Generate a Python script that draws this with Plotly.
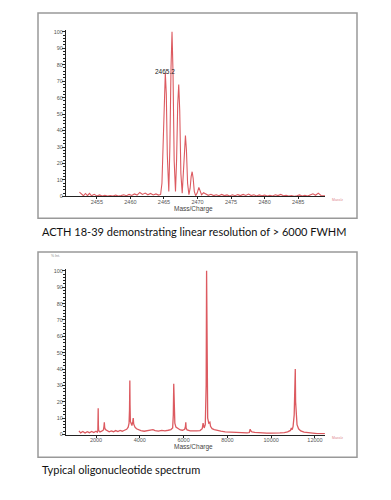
import plotly.graph_objects as go

# ---------------- data ----------------
# ACTH 18-39 isotope cluster (top panel)
top_mz = [2452.4, 2452.7, 2453.0, 2453.3, 2453.6, 2453.9, 2454.2, 2454.6, 2455.0, 2455.4,
          2455.8, 2456.2, 2456.6, 2457.0, 2457.4, 2457.8, 2458.2, 2458.6, 2459.0, 2459.4,
          2459.8, 2460.2, 2460.6, 2461.0, 2461.4, 2461.8, 2462.2, 2462.6, 2463.0, 2463.4,
          2463.8, 2464.2, 2464.5,
          2464.7, 2464.9, 2465.05, 2465.2, 2465.35, 2465.5, 2465.72,
          2465.88, 2466.05, 2466.2, 2466.35, 2466.52, 2466.72,
          2466.88, 2467.05, 2467.2, 2467.35, 2467.52, 2467.72,
          2467.88, 2468.05, 2468.2, 2468.35, 2468.52, 2468.72,
          2468.9, 2469.05, 2469.2, 2469.35, 2469.52, 2469.72,
          2469.95, 2470.2, 2470.4, 2470.6,
          2470.9, 2471.2, 2471.6, 2472.0, 2472.4, 2472.8, 2473.2, 2473.6, 2474.0, 2474.4,
          2474.8, 2475.2, 2475.6, 2476.0, 2476.4, 2476.8, 2477.2, 2477.6, 2478.0, 2478.4,
          2478.8, 2479.2, 2479.6, 2480.0, 2480.4, 2480.8, 2481.2, 2481.6, 2482.0, 2482.4,
          2482.8, 2483.2, 2483.6, 2484.0, 2484.4, 2484.8, 2485.2, 2485.6, 2486.0, 2486.4,
          2486.8, 2487.2, 2487.6, 2488.0, 2488.4, 2488.8, 2489.0]
top_int = [2.6, 1.2, 0.4, 1.8, 0.5, 1.9, 0.4, 1.3, 0.3, 0.9,
           0.2, 0.6, 0.3, 0.5, 0.2, 0.8, 0.3, 0.5, 1.0, 0.4,
           1.2, 0.6, 1.5, 0.8, 2.4, 1.2, 2.0, 1.0, 1.8, 0.9,
           1.5, 0.8, 1.2,
           8, 40, 66, 75, 62, 25, 3,
           30, 78, 100, 75, 22, 3,
           22, 56, 68, 52, 14, 2,
           13, 30, 37, 28, 8, 1.0,
           5, 12, 15, 11, 3, 0.5,
           2, 5.5, 2.5, 1.0,
           2.2, 1.5, 0.7, 1.3, 0.5, 1.0, 0.4, 1.2, 0.5, 0.9,
           0.3, 1.0, 0.4, 1.1, 0.5, 1.2, 0.6, 1.4, 0.5, 1.0,
           0.3, 0.9, 0.4, 0.8, 0.2, 0.6, 0.3, 1.0, 0.5, 1.2,
           0.4, 0.7, 0.2, 0.5, 0.1, 0.4, 0.9, 0.3, 0.6, 0.2,
           0.8, 1.6, 0.7, 2.0, 0.6, 0.5, 0.3]

# Oligonucleotide spectrum (bottom panel)
bot_mz = [1220, 1300, 1400, 1500, 1600, 1700, 1800, 1900, 2000, 2060,
          2085, 2095, 2100, 2108, 2120, 2180, 2260, 2340, 2365, 2380, 2395, 2430, 2500,
          2600, 2700, 2800, 2900, 3000, 3100, 3200, 3300, 3400, 3470,
          3510, 3530, 3545, 3555, 3570, 3600, 3640, 3680, 3700, 3720, 3780, 3850,
          3950, 4050, 4200, 4350, 4500, 4600, 4700, 4850, 5000, 5150, 5300, 5420, 5500,
          5530, 5550, 5565, 5600, 5650, 5750, 5850, 5950, 6050, 6085, 6100, 6115, 6160,
          6300, 6450, 6600, 6750, 6850, 6890, 6910, 6940, 6990, 7030, 7050, 7070,
          7100, 7150, 7200, 7230, 7300, 7400, 7550, 7700, 7900, 8100, 8300, 8500,
          8700, 8900, 9000, 9040, 9060, 9120, 9250, 9400, 9600, 9800, 10000, 10200,
          10400, 10600, 10750, 10880, 10920, 10960, 11000, 11050, 11080, 11100, 11115,
          11140, 11180, 11250, 11350, 11500, 11700, 11900, 12100, 12300, 12450]
bot_int = [2.2, 1.0, 1.8, 0.9, 1.7, 1.1, 1.9, 1.2, 2.0, 1.4,
           2.5, 9, 16, 6, 2.5, 1.6, 2.0, 2.8, 5, 7.5, 4.5, 3.0, 2.2,
           1.6, 2.2, 1.7, 2.4, 1.8, 2.5, 2.0, 2.6, 3.2, 4.5,
           7, 15, 33, 18, 8, 6.5, 5.5, 8, 10, 6.5, 4.5, 3.5,
           2.8, 2.4, 2.0, 2.3, 2.6, 3.0, 2.4, 2.1, 2.5, 2.2, 2.6, 3.0, 4.0,
           12, 31, 14, 7, 4.5, 3.4, 2.8, 2.6, 3.2, 5, 7.5, 4, 2.8,
           2.2, 2.0, 2.2, 2.4, 3.5, 7, 4.5, 4, 6, 30, 100, 25,
           10, 7, 7.5, 5, 3.6, 3.0, 2.4, 2.0, 1.6, 1.4, 1.3, 1.2,
           1.1, 1.0, 1.2, 3.2, 2.4, 1.6, 1.3, 1.1, 1.0, 0.9, 0.9, 0.8,
           1.0, 1.2, 1.6, 2.5, 4, 3, 5, 12, 25, 40, 20,
           11, 6, 3.5, 2.2, 1.4, 1.0, 0.8, 0.6, 0.5, 0.5]

top_ticks = [2455, 2460, 2465, 2470, 2475, 2480, 2485]
bot_ticks = [2000, 4000, 6000, 8000, 10000, 12000]
y_ticks = [0, 10, 20, 30, 40, 50, 60, 70, 80, 90, 100]

caption_top = "ACTH 18-39 demonstrating linear resolution of > 6000 FWHM"
caption_bot = "Typical oligonucleotide spectrum"
peak_label = "2465.2"

# ---------------- figure ----------------
W, H = 391, 500
line_col = "#dc5a60"


def px(p):
    return p / W


def py(p):
    return 1 - p / H


fig = go.Figure()
fig.add_trace(go.Scatter(x=top_mz, y=top_int, mode="lines",
                         line=dict(color=line_col, width=1.1), xaxis="x", yaxis="y",
                         hoverinfo="skip", showlegend=False))
fig.add_trace(go.Scatter(x=bot_mz, y=bot_int, mode="lines",
                         line=dict(color=line_col, width=1.3), xaxis="x2", yaxis="y2",
                         hoverinfo="skip", showlegend=False))

tick_font = dict(family="Liberation Sans, Arial, sans-serif", size=5.5, color="#555555")

xcommon = dict(showline=True, linecolor="#222222", linewidth=1, ticks="outside",
               ticklen=2, tickcolor="#222222", tickfont=tick_font, showgrid=False,
               zeroline=False, fixedrange=True, ticklabelstandoff=-2)
ycommon = dict(showline=True, linecolor="#222222", linewidth=1, ticks="outside",
               ticklen=3, tickcolor="#222222", tickfont=tick_font, showgrid=False,
               zeroline=False, tickvals=y_ticks, fixedrange=True, ticklabelstandoff=-2,
               minor=dict(dtick=2, ticklen=2, ticks="outside", tickcolor="#222222"))

fig.update_layout(
    width=W, height=H, margin=dict(l=0, r=0, t=0, b=0),
    paper_bgcolor="white", plot_bgcolor="white",
    xaxis=dict(domain=[px(66), px(325)], range=[2450.4, 2489.0], tickvals=top_ticks,
               anchor="y", **xcommon),
    yaxis=dict(domain=[py(197), py(29.3)], range=[0, 101], anchor="x", **ycommon),
    xaxis2=dict(domain=[px(66), px(325)], range=[630, 12457], tickvals=bot_ticks,
                ticktext=[str(t) for t in bot_ticks], anchor="y2", **xcommon),
    yaxis2=dict(domain=[py(437), py(270.4)], range=[0, 101], anchor="x2", **ycommon),
)

# grey frames around each spectrum
for top, bot in [(12, 219), (253, 460)]:
    fig.add_shape(type="rect", xref="paper", yref="paper",
                  x0=px(38), x1=px(357), y0=py(bot), y1=py(top),
                  line=dict(color="#999999", width=1.5), layer="above")

ann_font = dict(family="Liberation Sans, Arial, sans-serif", size=6.5, color="#444444")
cap_font = dict(family="Lato, Open Sans, sans-serif", size=11, color="#111111")


def note(x, y, text, font, xanchor="center", xref="paper", yref="paper"):
    fig.add_annotation(x=x, y=y, xref=xref, yref=yref, text=text, showarrow=False,
                       xanchor=xanchor, yanchor="middle", font=font,
                       borderpad=0, borderwidth=0)


note(px(193), py(210), "Mass/Charge", ann_font)
note(px(193), py(450), "Mass/Charge", ann_font)
note(2465.15, 76, peak_label,
     dict(family="Liberation Sans, Arial, sans-serif", size=6.5, color="#222222"),
     xref="x", yref="y")
note(px(42), py(232), caption_top, cap_font, xanchor="left")
note(px(42), py(472), caption_bot, cap_font, xanchor="left")
note(px(55), py(257), "% Int.", dict(family="Liberation Sans", size=3.5, color="#888888"))
for yy in (201, 441):
    note(px(337), py(yy), "Mass/z", dict(family="Liberation Sans", size=3.5, color="#e08a90"))

fig.write_html("out.html",
               config={"displayModeBar": False, "staticPlot": True},
               post_script="document.documentElement.style.margin='0';"
                           "document.body.style.margin='0';"
                           "document.body.style.overflow='hidden';")
